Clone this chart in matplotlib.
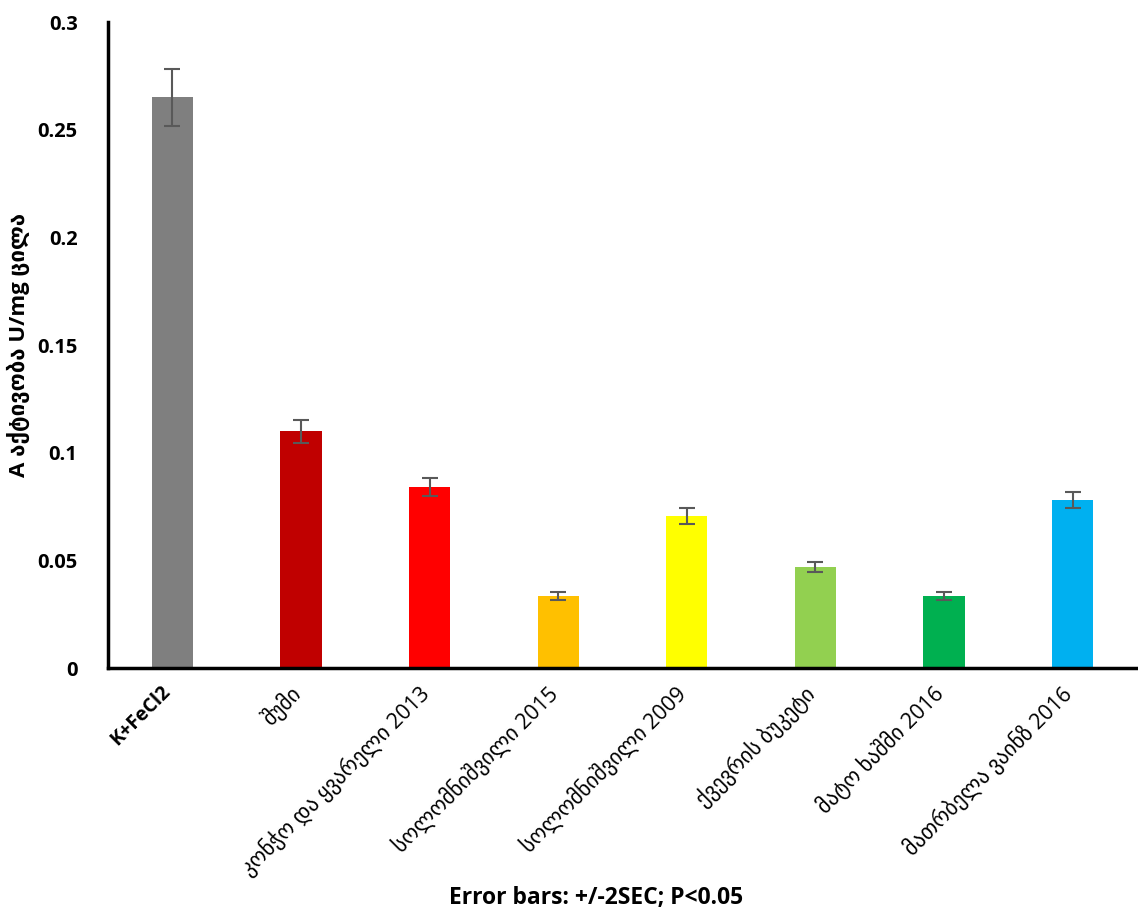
import numpy as np
import matplotlib.pyplot as plt
from matplotlib.transforms import ScaledTranslation

categories = ["K+FeCl2", "შუმი", "კონჭო და ყვარელი 2013", "სოლომნიშვილი 2015",
              "სოლომნიშვილი 2009", "ქვევრის ბუკეტი", "მატო ხაშმი 2016",
              "მათრბელა ვაინზ 2016"]
values = [0.265, 0.110, 0.084, 0.0335, 0.0707, 0.047, 0.0335, 0.078]
errors = [0.0132, 0.0053, 0.0042, 0.0019, 0.0037, 0.0023, 0.0019, 0.0037]
colors = ["#7f7f7f", "#c00000", "#ff0000", "#ffc000", "#ffff00", "#92d050",
          "#00b050", "#00b0f0"]
yticks = [0, 0.05, 0.1, 0.15, 0.2, 0.25, 0.3]
ytick_labels = ["0", "0.05", "0.1", "0.15", "0.2", "0.25", "0.3"]

fam = ["Open Sans", "DejaVu Sans"]

fig = plt.figure(figsize=(11.38, 9.18), dpi=100)
ax = fig.add_axes([0.095, 0.2723, 0.904, 0.7037])

x = np.arange(len(categories))
ax.bar(x, values, width=0.32, color=colors, zorder=2)
ax.errorbar(x, values, yerr=errors, fmt="none", ecolor="#595959",
            elinewidth=1.5, capsize=6, capthick=1.5, zorder=3)

ax.set_xlim(-0.5, len(categories) - 0.5)
ax.set_ylim(0, 0.3)
ax.set_yticks(yticks)
ax.set_yticklabels(ytick_labels, family=fam, fontweight="bold", fontsize=14.5)
ax.tick_params(axis="y", length=0, pad=22)
ax.tick_params(axis="x", length=0, pad=10)

ax.set_xticks(x)
ax.set_xticklabels(categories, rotation=45, ha="right", va="top",
                   rotation_mode="anchor", family=fam, fontsize=15.5)
shift = ScaledTranslation(-12 / 100, 0, fig.dpi_scale_trans)
for lbl in ax.get_xticklabels():
    lbl.set_transform(lbl.get_transform() + shift)
first = ax.get_xticklabels()[0]
first.set_fontweight("bold")
first.set_fontsize(14)

for s in ["top", "right"]:
    ax.spines[s].set_visible(False)
for s in ["left", "bottom"]:
    ax.spines[s].set_linewidth(2.5)
    ax.spines[s].set_color("black")

ax.set_ylabel("A აქტივობა U/mg ცილა", family=fam, fontweight="bold",
              fontsize=16)
ax.yaxis.set_label_coords(-0.076, 0.5)
fig.text(0.524, 0.022, "Error bars: +/-2SEC; P<0.05", family=fam,
         fontweight="bold", fontsize=16.5, ha="center", va="center")

fig.savefig("out.png", dpi=100)
